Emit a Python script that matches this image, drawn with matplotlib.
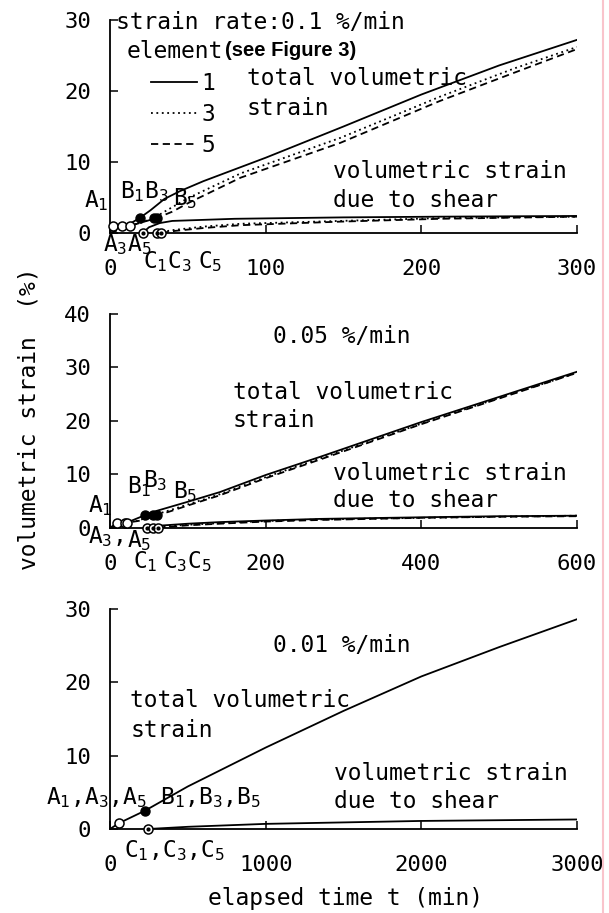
import matplotlib
matplotlib.use("Agg")
import matplotlib.pyplot as plt
from matplotlib.lines import Line2D

plt.rcParams['font.family'] = ['DejaVu Sans Mono']
plt.rcParams['mathtext.fontset'] = 'custom'
plt.rcParams['mathtext.rm'] = 'DejaVu Sans Mono'
plt.rcParams['mathtext.it'] = 'DejaVu Sans Mono'
plt.rcParams['mathtext.bf'] = 'DejaVu Sans Mono:bold'

FS = 16.5

# ---------------- 0.1 %/min ----------------
r1_t1 = [0, 2, 12, 19, 26, 35, 45, 60, 100, 150, 200, 250, 300]
r1_v1 = [0, 1.0, 1.2, 2.1, 3.2, 4.8, 5.9, 7.3, 10.6, 15.0, 19.5, 23.6, 27.2]
r1_t3 = [0, 7.7, 18, 28, 35, 50, 84, 148, 212, 260, 300]
r1_v3 = [0, 1.0, 1.3, 2.1, 3.0, 4.9, 8.4, 13.4, 19.2, 23.2, 26.2]
r1_t5 = [0, 13, 22, 30, 40, 51, 84, 148, 212, 260, 300]
r1_v5 = [0, 1.0, 1.6, 2.1, 3.0, 4.3, 7.8, 12.7, 18.6, 22.6, 25.9]
# volumetric strain due to shear
r1_s_t1 = [21, 25, 32, 40, 80, 150, 212, 300]
r1_s_v1 = [0, 0.8, 1.4, 1.7, 2.0, 2.2, 2.3, 2.4]
r1_s_t3 = [30, 40, 60, 84, 148, 212, 300]
r1_s_v3 = [0, 0.4, 0.9, 1.3, 1.7, 2.1, 2.3]
r1_s_t5 = [33, 42, 60, 84, 148, 212, 300]
r1_s_v5 = [0, 0.3, 0.7, 1.1, 1.6, 2.0, 2.3]
r1_A = ([2, 7.7, 13], [1.0, 1.0, 1.0])
r1_B = ([19, 28, 30], [2.1, 2.1, 2.1])
r1_C = ([21, 30, 33], [0, 0, 0])

# ---------------- 0.05 %/min ----------------
r2_t1 = [0, 9, 25, 45, 60, 100, 141, 200, 270, 400, 500, 600]
r2_v1 = [0, 1.0, 1.2, 2.4, 3.2, 4.9, 6.7, 9.9, 13.3, 19.8, 24.5, 29.2]
r2_t3 = [0, 19, 35, 55, 70, 100, 141, 200, 270, 400, 500, 600]
r2_v3 = [0, 1.0, 1.3, 2.4, 3.0, 4.4, 6.3, 9.5, 13.0, 19.5, 24.3, 29.0]
r2_t5 = [0, 22, 40, 60, 75, 100, 141, 200, 270, 400, 500, 600]
r2_v5 = [0, 1.0, 1.4, 2.4, 3.0, 4.2, 6.1, 9.3, 12.8, 19.4, 24.2, 29.0]
r2_s_t1 = [48, 60, 100, 141, 200, 270, 400, 500, 600]
r2_s_v1 = [0, 0.4, 0.8, 1.1, 1.4, 1.7, 2.0, 2.2, 2.3]
r2_s_t3 = [55, 70, 100, 141, 200, 270, 400, 500, 600]
r2_s_v3 = [0, 0.3, 0.6, 0.9, 1.3, 1.6, 1.9, 2.1, 2.3]
r2_s_t5 = [62, 75, 100, 141, 200, 270, 400, 500, 600]
r2_s_v5 = [0, 0.2, 0.5, 0.8, 1.2, 1.5, 1.9, 2.1, 2.2]
r2_A = ([9, 19, 22], [1.0, 1.0, 1.0])
r2_B = ([45, 55, 60], [2.4, 2.4, 2.4])
r2_C = ([48, 55, 62], [0, 0, 0])

# ---------------- 0.01 %/min (all elements coincide) ----------------
r3_t = [0, 58, 225, 500, 1000, 1500, 2000, 2500, 3000]
r3_v = [0, 0.8, 2.5, 5.8, 11.1, 16.1, 20.8, 24.8, 28.6]
r3_s_t = [245, 500, 1000, 2000, 3000]
r3_s_v = [0, 0.3, 0.7, 1.1, 1.3]
r3_A = ([58], [0.8])
r3_B = ([225], [2.5])
r3_C = ([245], [0])

LW = 1.3
STY1 = dict(color='black', lw=LW, ls='-')
STY3 = dict(color='black', lw=LW, ls=(0, (1, 2)))
STY5 = dict(color='black', lw=LW, ls=(0, (4, 2.5)))


def setup(ax, xmax, ymax, xt, yt):
    ax.set_xlim(0, xmax)
    ax.set_ylim(0, ymax)
    ax.spines['top'].set_visible(False)
    ax.spines['right'].set_visible(False)
    ax.spines['left'].set_linewidth(1.3)
    ax.spines['bottom'].set_linewidth(1.3)
    ax.set_xticks(xt)
    ax.set_yticks(yt)
    ax.tick_params(direction='in', length=6, width=1.1, labelsize=16)
    ax.tick_params(axis='x', pad=18.4)
    ax.tick_params(axis='y', pad=13.7)


def points(ax, A, B, C):
    ax.plot(A[0], A[1], 'o', ms=6.5, mfc='white', mec='black', mew=1.1, clip_on=False, zorder=5)
    ax.plot(B[0], B[1], 'o', ms=6.5, mfc='black', mec='black', clip_on=False, zorder=5)
    ax.plot(C[0], C[1], 'o', ms=6.5, mfc='white', mec='black', mew=1.1, clip_on=False, zorder=5)
    ax.plot(C[0], C[1], 'o', ms=2, color='black', clip_on=False, zorder=6)


def txt(ax, x, y, s, **kw):
    kw.setdefault('fontsize', FS)
    ax.text(x, y, s, va='baseline', ha='left', clip_on=False, **kw)


fig = plt.figure(figsize=(6.09, 9.13), dpi=100)

# panel 1
ax1 = fig.add_axes([0.1806, 0.7448, 0.7668, 0.2333])
setup(ax1, 300, 30, [0, 100, 200, 300], [0, 10, 20, 30])
l1, = ax1.plot(r1_t1, r1_v1, **STY1)
l3, = ax1.plot(r1_t3, r1_v3, **STY3)
l5, = ax1.plot(r1_t5, r1_v5, **STY5)
ax1.plot(r1_s_t1, r1_s_v1, **STY1)
ax1.plot(r1_s_t3, r1_s_v3, **STY3)
ax1.plot(r1_s_t5, r1_s_v5, **STY5)
points(ax1, r1_A, r1_B, r1_C)
ax1.legend([l1, l3, l5], ['1', '3', '5'], loc='upper left', bbox_to_anchor=(0.0878, 0.756),
           frameon=False, handlelength=2.0, handletextpad=0.2, labelspacing=0.35,
           borderpad=0, borderaxespad=0, fontsize=FS)
txt(ax1, 3.9, 28.7, 'strain rate:0.1 %/min')
txt(ax1, 10.9, 24.6, 'element')
txt(ax1, 73.9, 24.9, '(see Figure 3)', fontsize=14.5, fontweight='bold',
    family=['Liberation Sans', 'DejaVu Sans'])
txt(ax1, 88, 20.8, 'total volumetric')
txt(ax1, 88, 16.6, 'strain')
txt(ax1, 143, 7.7, 'volumetric strain')
txt(ax1, 143, 3.7, 'due to shear')
txt(ax1, -16.7, 3.6, 'A$_1$')
txt(ax1, 6.4, 4.9, 'B$_1$B$_3$')
txt(ax1, 40.5, 3.9, 'B$_5$')
txt(ax1, -4.5, -2.6, 'A$_3$A$_5$')
txt(ax1, 21.2, -4.9, 'C$_1$C$_3$')
txt(ax1, 56.5, -4.9, 'C$_5$')

# panel 2
ax2 = fig.add_axes([0.1806, 0.4217, 0.7668, 0.2344])
setup(ax2, 600, 40, [0, 200, 400, 600], [0, 10, 20, 30, 40])
ax2.plot(r2_t1, r2_v1, **STY1)
ax2.plot(r2_t3, r2_v3, **STY3)
ax2.plot(r2_t5, r2_v5, **STY5)
ax2.plot(r2_s_t1, r2_s_v1, **STY1)
ax2.plot(r2_s_t3, r2_s_v3, **STY3)
ax2.plot(r2_s_t5, r2_s_v5, **STY5)
points(ax2, r2_A, r2_B, r2_C)
txt(ax2, 209, 34.5, '0.05 %/min')
txt(ax2, 158, 24.2, 'total volumetric')
txt(ax2, 158, 18.9, 'strain')
txt(ax2, 286.5, 9.0, 'volumetric strain')
txt(ax2, 286.5, 3.9, 'due to shear')
txt(ax2, -28, 3.0, 'A$_1$')
txt(ax2, 21.8, 6.5, 'B$_1$')
txt(ax2, 43, 7.7, 'B$_3$')
txt(ax2, 81.5, 5.5, 'B$_5$')
txt(ax2, -28, -2.9, 'A$_3$,')
txt(ax2, 21.8, -3.5, 'A$_5$')
txt(ax2, 29.5, -7.5, 'C$_1$')
txt(ax2, 68, -7.5, 'C$_3$C$_5$')

# panel 3
ax3 = fig.add_axes([0.1806, 0.0920, 0.7668, 0.2410])
setup(ax3, 3000, 30, [0, 1000, 2000, 3000], [0, 10, 20, 30])
ax3.plot(r3_t, r3_v, **STY1)
ax3.plot(r3_s_t, r3_s_v, **STY1)
points(ax3, r3_A, r3_B, r3_C)
txt(ax3, 1050, 24.1, '0.01 %/min')
txt(ax3, 129, 16.7, 'total volumetric')
txt(ax3, 129, 12.6, 'strain')
txt(ax3, 1442, 6.7, 'volumetric strain')
txt(ax3, 1442, 2.8, 'due to shear')
txt(ax3, -412, 3.4, 'A$_1$,A$_3$,A$_5$ B$_1$,B$_3$,B$_5$')
txt(ax3, 90, -3.8, 'C$_1$,C$_3$,C$_5$')

fig.text(345 / 609, 1 - 898 / 913, 'elapsed time t (min)', fontsize=FS, ha='center', va='center')
fig.text(29 / 609, 1 - 419 / 913, 'volumetric strain  (%)', fontsize=FS, ha='center', va='center',
         rotation=90)

# thin pink rule at the right edge
fig.add_artist(Line2D([602.7 / 609] * 2, [0, 1], transform=fig.transFigure, color='#f9c4cc', lw=1.5))

fig.savefig('out.png', dpi=100)
